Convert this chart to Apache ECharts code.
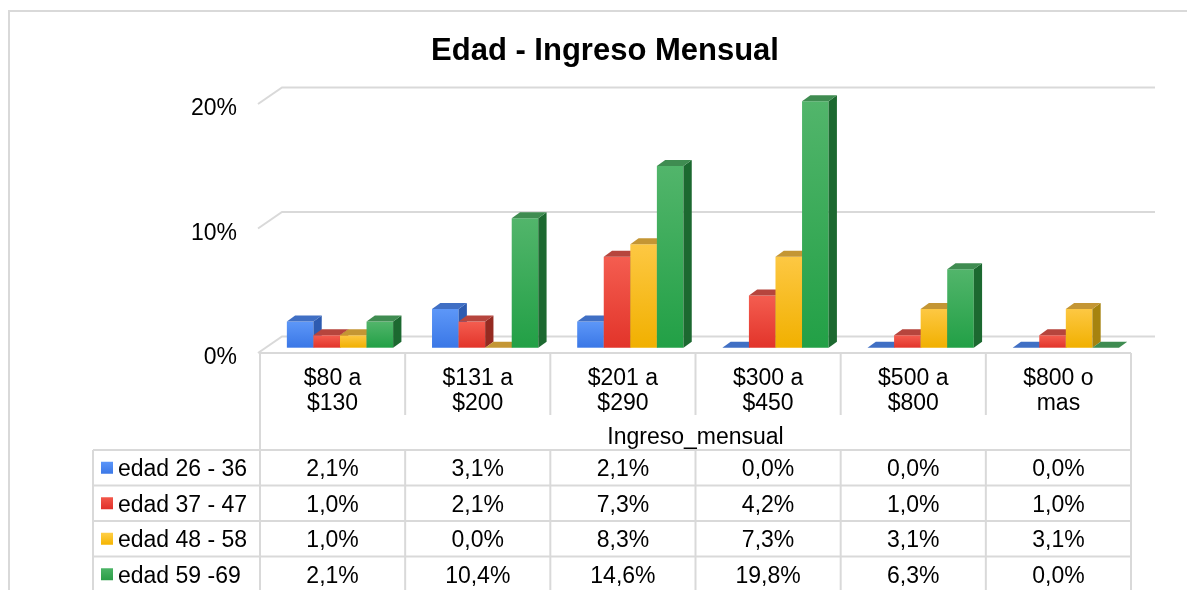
<!DOCTYPE html>
<html>
<head>
<meta charset="utf-8">
<title>Edad - Ingreso Mensual</title>
<script src="https://cdn.jsdelivr.net/npm/echarts@6/dist/echarts.min.js"></script>
<style>
html, body { margin: 0; padding: 0; background: #fff; }
#chart { width: 1187px; height: 590px; }
</style>
</head>
<body>
<div id="chart"></div>
<script>
// datos
const categories = ['$80 a\n$130', '$131 a\n$200', '$201 a\n$290', '$300 a\n$450', '$500 a\n$800', '$800 o\nmas'];
const seriesNames = ['edad 26 - 36', 'edad 37 - 47', 'edad 48 - 58', 'edad 59 -69'];
const edad26 = [2.1, 3.1, 2.1, 0.0, 0.0, 0.0];
const edad37 = [1.0, 2.1, 7.3, 4.2, 1.0, 1.0];
const edad48 = [1.0, 0.0, 8.3, 7.3, 3.1, 3.1];
const edad59 = [2.1, 10.4, 14.6, 19.8, 6.3, 0.0];
const yTicks = [0, 10, 20];
const axisTitle = 'Ingreso_mensual';
const chartTitle = 'Edad - Ingreso Mensual';

const FONT = '"Liberation Sans", Arial, sans-serif';
const LINE = '#d9d9d9';

const palette = [
	{ front: ['#5d97f8', '#3a77e6'], top: '#406fc4', side: '#2d5bb0', key: ['#5b95f9', '#3b78e7'] },
	{ front: ['#f45d50', '#e2342a'], top: '#b6453d', side: '#952a21', key: ['#f3574a', '#e0302a'] },
	{ front: ['#fdc843', '#f1b000'], top: '#c49634', side: '#a6830f', key: ['#ffcf48', '#f5b400'] },
	{ front: ['#52b56b', '#22a046'], top: '#3f8c51', side: '#1c6930', key: ['#4cb466', '#2b9d47'] }
];
const allValues = [edad26, edad37, edad48, edad59];

const LIFT = 5.3;   // plano de las barras sobre el frente del piso
const DX = 8.3;     // profundidad de la barra
const DY = 6;
const FLOOR_DX = 24;
const FLOOR_DY = 16.5;

const fmt = (v) => v.toFixed(1).replace('.', ',') + '%';

function barRenderer(idx) {
	const pal = palette[idx];
	return function (params, api) {
		const cat = api.value(0);
		const top = api.coord([cat, api.value(1)]);
		const base = api.coord([cat, 0]);
		const W = api.size([1, 0])[0];
		const bw = W * 0.183;
		const x0 = top[0] - W / 2 + W * 0.185 + idx * bw;
		const y1 = top[1] - LIFT;
		const y0 = base[1] - LIFT;
		const children = [];
		if (y0 - y1 > 0.5) {
			children.push({
				type: 'rect',
				shape: { x: x0, y: y1, width: bw, height: y0 - y1 },
				style: { fill: new echarts.graphic.LinearGradient(0, 0, 0, 1, [
					{ offset: 0, color: pal.front[0] },
					{ offset: 1, color: pal.front[1] }
				]) }
			});
			children.push({
				type: 'polygon',
				shape: { points: [[x0 + bw, y1], [x0 + bw + DX, y1 - DY], [x0 + bw + DX, y0 - DY], [x0 + bw, y0]] },
				style: { fill: pal.side }
			});
		}
		children.push({
			type: 'polygon',
			shape: { points: [[x0, y1], [x0 + bw, y1], [x0 + bw + DX, y1 - DY], [x0 + DX, y1 - DY]] },
			style: { fill: pal.top }
		});
		return { type: 'group', children: children };
	};
}

function gridRenderer(params, api) {
	const p = api.coord([0, api.value(1)]);
	const cs = params.coordSys;
	return {
		type: 'polyline',
		shape: { points: [[cs.x - 2, p[1]], [cs.x + FLOOR_DX - 2, p[1] - FLOOR_DY], [cs.x + cs.width + FLOOR_DX, p[1] - FLOOR_DY]] },
		style: { stroke: LINE, lineWidth: 2, fill: null }
	};
}

// tabla de datos debajo del eje
const tLeft = 260, tRight = 1131, tTop = 353, legLeft = 93;
const headBottom = 415, rowsTop = 450, rowH = 35.5, tBottom = 600;
const colW = (tRight - tLeft) / categories.length;

function tableGraphic() {
	const els = [];
	const line = (x1, y1, x2, y2) => els.push({
		type: 'line', silent: true,
		shape: { x1: x1, y1: y1, x2: x2, y2: y2 },
		style: { stroke: LINE, lineWidth: 2 }
	});
	const text = (x, y, s, align) => els.push({
		type: 'text', silent: true,
		x: x, y: y,
		style: { text: s, fill: '#000', font: '23px ' + FONT, textAlign: align || 'center', textVerticalAlign: 'middle' }
	});

	// borde exterior del grafico
	els.push({
		type: 'rect', silent: true,
		shape: { x: 9, y: 11, width: 1250, height: 650 },
		style: { stroke: LINE, lineWidth: 2, fill: null }
	});

	line(tLeft, tTop, tRight, tTop);
	line(tLeft, tTop, tLeft, tBottom);
	line(tRight, tTop, tRight, tBottom);
	line(legLeft, rowsTop, legLeft, tBottom);
	for (let i = 1; i < categories.length; i++) {
		const x = tLeft + i * colW;
		line(x, tTop, x, headBottom);
		line(x, rowsTop, x, tBottom);
	}
	for (let r = 0; r <= seriesNames.length; r++) {
		const y = rowsTop + r * rowH;
		line(legLeft, y, tRight, y);
	}
	text((tLeft + tRight) / 2, 438, axisTitle);

	seriesNames.forEach((name, r) => {
		const cy = rowsTop + (r + 0.5) * rowH + 2;
		els.push({
			type: 'rect', silent: true,
			shape: { x: 101, y: cy - 8, width: 12, height: 12 },
			style: { fill: new echarts.graphic.LinearGradient(0, 0, 0, 1, [
				{ offset: 0, color: palette[r].key[0] },
				{ offset: 1, color: palette[r].key[1] }
			]) }
		});
		text(118, cy, name, 'left');
		allValues[r].forEach((v, c) => {
			text(tLeft + (c + 0.5) * colW, cy, fmt(v));
		});
	});
	return els;
}

const myChart = echarts.init(document.getElementById('chart'), null, { renderer: 'canvas' });

const seriesList = [{
	type: 'custom',
	name: 'grid',
	silent: true,
	clip: false,
	z: 1,
	renderItem: gridRenderer,
	data: yTicks.map((t) => [0, t])
}];
allValues.forEach((vals, idx) => {
	seriesList.push({
		type: 'custom',
		name: seriesNames[idx],
		clip: false,
		z: 2,
		renderItem: barRenderer(idx),
		data: vals.map((v, i) => [i, v])
	});
});

const option = {
	animation: false,
	backgroundColor: '#fff',
	textStyle: { fontFamily: FONT },
	title: {
		text: chartTitle,
		left: 605,
		top: 36,
		padding: 0,
		textAlign: 'center',
		textStyle: { fontSize: 31, fontWeight: 'bold', color: '#000', fontFamily: FONT }
	},
	grid: {
		left: tLeft,
		right: 1187 - tRight,
		top: 104,
		bottom: 590 - tTop
	},
	xAxis: {
		type: 'category',
		data: categories,
		axisLine: { show: false },
		axisTick: { show: false },
		splitLine: { show: false },
		axisLabel: { interval: 0, fontSize: 23, lineHeight: 25, margin: 13, color: '#000', fontFamily: FONT }
	},
	yAxis: {
		type: 'value',
		min: 0,
		max: 20,
		interval: 10,
		axisLine: { show: false },
		axisTick: { show: false },
		splitLine: { show: false },
		axisLabel: { formatter: '{value}%', fontSize: 23, margin: 23, verticalAlign: 'top', lineHeight: 10, color: '#000', fontFamily: FONT }
	},
	graphic: tableGraphic(),
	series: seriesList
};

myChart.setOption(option);
</script>
</body>
</html>
